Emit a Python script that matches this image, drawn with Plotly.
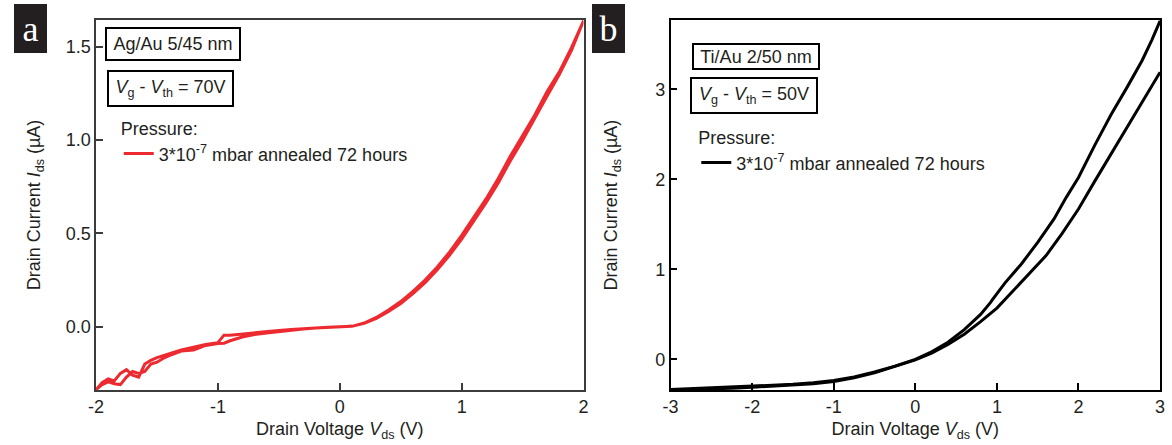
import plotly.graph_objects as go

# ---------------- data ----------------
# Panel a: Ag/Au 5/45 nm, Vg - Vth = 70 V (forward and backward sweep)
va_fwd = [-2.0, -1.95, -1.90, -1.85, -1.80, -1.75, -1.70, -1.65, -1.60, -1.55, -1.50, -1.45, -1.40,
          -1.30, -1.20, -1.10, -1.00, -0.95, -0.90, -0.80, -0.70, -0.60, -0.50, -0.40, -0.30, -0.20,
          -0.10, 0.00, 0.10, 0.20, 0.30, 0.40, 0.50, 0.60, 0.70, 0.80, 0.90, 1.00, 1.10, 1.20, 1.30,
          1.40, 1.50, 1.60, 1.70, 1.80, 1.90, 2.00]
ia_fwd = [-0.337, -0.300, -0.280, -0.290, -0.250, -0.230, -0.260, -0.270, -0.200, -0.180, -0.165,
          -0.155, -0.145, -0.125, -0.110, -0.095, -0.085, -0.045, -0.045, -0.038, -0.032, -0.026,
          -0.020, -0.015, -0.010, -0.006, -0.003, 0.000, 0.002, 0.020, 0.050, 0.090, 0.135, 0.190,
          0.250, 0.320, 0.400, 0.490, 0.585, 0.685, 0.795, 0.915, 1.025, 1.135, 1.260, 1.365,
          1.495, 1.640]
va_bwd = list(reversed(va_fwd))
ia_bwd = list(reversed([-0.337, -0.310, -0.295, -0.305, -0.310, -0.270, -0.240, -0.250, -0.240,
                        -0.200, -0.190, -0.170, -0.155, -0.130, -0.125, -0.100, -0.090, -0.088,
                        -0.075, -0.055, -0.042, -0.033, -0.025, -0.018, -0.012, -0.007, -0.003,
                        0.000, 0.002, 0.018, 0.045, 0.082, 0.125, 0.177, 0.236, 0.305, 0.383,
                        0.470, 0.565, 0.665, 0.770, 0.890, 1.000, 1.115, 1.235, 1.350, 1.480,
                        1.640]))

# Panel b: Ti/Au 2/50 nm, Vg - Vth = 50 V (two sweep branches)
vb_up = [-3.0, -2.75, -2.5, -2.25, -2.0, -1.75, -1.5, -1.25, -1.0, -0.75, -0.5, -0.25, 0.0,
         0.2, 0.4, 0.6, 0.8, 0.92, 0.95, 1.1, 1.3, 1.5, 1.7, 1.85, 2.0, 2.2, 2.4, 2.6, 2.78,
         2.9, 3.0]
ib_up = [-0.335, -0.325, -0.318, -0.310, -0.300, -0.290, -0.277, -0.260, -0.235, -0.195,
         -0.140, -0.075, 0.000, 0.085, 0.190, 0.330, 0.500, 0.630, 0.670, 0.850, 1.060, 1.300,
         1.560, 1.800, 2.020, 2.380, 2.720, 3.030, 3.320, 3.550, 3.760]
vb_low = [-3.0, -2.75, -2.5, -2.25, -2.0, -1.75, -1.5, -1.25, -1.0, -0.75, -0.5, -0.25, 0.0,
          0.2, 0.4, 0.6, 0.8, 1.0, 1.2, 1.4, 1.6, 1.8, 2.0, 2.2, 2.4, 2.6, 2.8, 3.0]
ib_low = [-0.340, -0.335, -0.330, -0.320, -0.310, -0.300, -0.285, -0.270, -0.245, -0.205,
          -0.150, -0.080, -0.005, 0.070, 0.165, 0.280, 0.420, 0.570, 0.760, 0.960, 1.150,
          1.400, 1.670, 1.980, 2.280, 2.580, 2.890, 3.190]

xticks_a = [-2, -1, 0, 1, 2]
yticks_a = [0.0, 0.5, 1.0, 1.5]
xticks_b = [-3, -2, -1, 0, 1, 2, 3]
yticks_b = [0, 1, 2, 3]

legend_label = "3*10<sup>-7</sup> mbar annealed 72 hours"

# ---------------- figure ----------------
W, H = 1172, 445
def X(px):
    return px / W
def Y(py):
    return 1 - py / H

RED = "#EC2A30"
FONT = "Liberation Sans, Arial, sans-serif"
TXT = "#231F20"

fig = go.Figure()
fig.add_trace(go.Scatter(x=va_fwd + va_bwd, y=ia_fwd + ia_bwd, mode="lines",
                         line=dict(color=RED, width=3), name=legend_label, showlegend=True,
                         xaxis="x", yaxis="y", legend="legend"))
fig.add_trace(go.Scatter(x=vb_up + [None] + vb_low[::-1], y=ib_up + [None] + ib_low[::-1],
                         mode="lines", line=dict(color="black", width=3), name=legend_label,
                         showlegend=True, xaxis="x2", yaxis="y2", legend="legend2"))

def axis_common(color):
    return dict(showline=True, mirror=True, linecolor=color, linewidth=1.5,
                ticks="inside", ticklen=7, tickwidth=1.5, tickcolor=color,
                showgrid=False, zeroline=False,
                tickfont=dict(family=FONT, size=18, color=TXT),
                title_font=dict(family=FONT, size=18, color=TXT))

xt = "Drain Voltage <i>V</i><sub>ds</sub> (V)"
yt = "Drain Current <i>I</i><sub>ds</sub> (µA)"

leg_common = dict(xanchor="left", yanchor="top", bgcolor="rgba(0,0,0,0)",
                  font=dict(family=FONT, size=18, color=TXT),
                  title=dict(text="Pressure:", font=dict(family=FONT, size=18, color=TXT)))

fig.update_layout(
    width=W, height=H, margin=dict(l=0, r=0, t=0, b=0), showlegend=True,
    paper_bgcolor="white", plot_bgcolor="white",
    font=dict(family=FONT, size=18, color=TXT),
    xaxis=dict(domain=[X(89), X(582)], range=[-2, 2], anchor="y",
               tickvals=xticks_a, ticktext=[str(v) for v in xticks_a],
               title=dict(text=xt, standoff=6), **axis_common("#3C3C3C")),
    yaxis=dict(domain=[Y(390), Y(20)], range=[-0.339, 1.644], anchor="x",
               tickvals=yticks_a, ticktext=[f"{v:.1f}" for v in yticks_a],
               title=dict(text=yt, standoff=20), **axis_common("#3C3C3C")),
    xaxis2=dict(domain=[X(670), X(1165)], range=[-3, 3], anchor="y2",
                tickvals=xticks_b, ticktext=[str(v) for v in xticks_b],
                title=dict(text=xt, standoff=6), **axis_common("black")),
    yaxis2=dict(domain=[Y(390), Y(20)], range=[-0.34, 3.77], anchor="x2",
                tickvals=yticks_b, ticktext=[str(v) for v in yticks_b],
                title=dict(text=yt, standoff=33), **axis_common("black")),
    legend=dict(x=X(112), y=Y(112), **leg_common),
    legend2=dict(x=X(696), y=Y(121), **leg_common),
)

ann = []
for label, px in (("a", 6), ("b", 591)):
    ann.append(dict(text=label, x=X(px), y=Y(4), xref="paper", yref="paper",
                    xanchor="left", yanchor="top", showarrow=False, width=33, height=49,
                    bgcolor=TXT, borderpad=0, borderwidth=0,
                    font=dict(family="Liberation Serif, Times New Roman, serif", size=36, color="white")))

boxes = [
    ("Ag/Au 5/45 nm", 98, 27, 126, 24),
    ("<i>V</i><sub>g</sub> - <i>V</i><sub>th</sub> = 70V", 100, 70, 117, 27),
    ("Ti/Au 2/50 nm", 692, 43, 118, 17),
    ("<i>V</i><sub>g</sub> - <i>V</i><sub>th</sub> = 50V", 690, 77, 118, 27),
]
for text, px, py, w, h in boxes:
    ann.append(dict(text=text, x=X(px), y=Y(py), xref="paper", yref="paper",
                    xanchor="left", yanchor="top", showarrow=False, width=w, height=h,
                    bordercolor="black", borderwidth=2, borderpad=3, bgcolor="white",
                    font=dict(family=FONT, size=18, color=TXT)))
fig.update_layout(annotations=ann)

fig.write_html("out.html", config={"displayModeBar": False},
               post_script="document.body.style.margin='0px';")
